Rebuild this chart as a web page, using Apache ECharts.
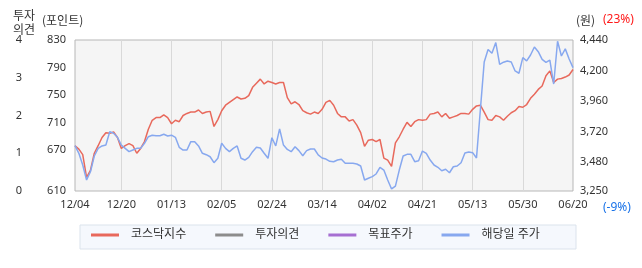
<!DOCTYPE html>
<html>
<head>
<meta charset="utf-8">
<script src="https://cdn.jsdelivr.net/npm/echarts@6/dist/echarts.min.js"></script>
<style>
html,body{margin:0;padding:0;background:#fff;}
#c{width:642px;height:268px;}
</style>
</head>
<body>
<div id="c"></div>
<script>
// Trading days 2024-12-04 .. 2025-06-20
var dates = [
'12/04','12/05','12/06','12/09','12/10','12/11','12/12','12/13','12/16','12/17','12/18','12/19','12/20','12/23','12/24','12/26','12/27','12/30',
'01/02','01/03','01/06','01/07','01/08','01/09','01/10','01/13','01/14','01/15','01/16','01/17','01/20','01/21','01/22','01/23','01/24','01/31',
'02/03','02/04','02/05','02/06','02/07','02/10','02/11','02/12','02/13','02/14','02/17','02/18','02/19','02/20','02/21','02/24','02/25','02/26','02/27','02/28',
'03/04','03/05','03/06','03/07','03/10','03/11','03/12','03/13','03/14','03/17','03/18','03/19','03/20','03/21','03/24','03/25','03/26','03/27','03/28','03/31',
'04/01','04/02','04/03','04/04','04/07','04/08','04/09','04/10','04/11','04/14','04/15','04/16','04/17','04/18','04/21','04/22','04/23','04/24','04/25','04/28','04/29','04/30',
'05/02','05/07','05/08','05/09','05/12','05/13','05/14','05/15','05/16','05/19','05/20','05/21','05/22','05/23','05/26','05/27','05/28','05/29','05/30',
'06/02','06/04','06/05','06/09','06/10','06/11','06/12','06/13','06/16','06/17','06/18','06/19','06/20'
];

// 코스닥지수 (포인트)
var kosdaq = [
676,671,663,630,640,665,676,688,695,694,696,688,672,676,679,676,665,672,
682,700,713,717,717,721,717,708,713,711,720,723,725,725,728,723,725,726,
704,714,727,735,739,743,747,744,745,749,761,767,773,766,770,768,766,768,768,746,
737,740,736,727,724,722,725,723,729,739,742,735,723,718,718,712,714,706,695,675,
684,685,682,685,658,655,646,680,689,700,710,704,711,714,713,714,722,723,725,718,723,716,
718,720,723,723,722,729,734,735,725,714,713,720,718,713,719,724,727,733,732,
736,745,751,758,763,778,785,768,773,774,776,779,787
];

// 해당일 주가 (원)
var price = [
3607,3547,3455,3337,3402,3526,3586,3605,3612,3717,3705,3673,3612,3586,3560,3573,3586,3586,
3626,3678,3689,3686,3686,3697,3683,3690,3673,3594,3573,3573,3639,3639,3605,3547,3536,3520,
3473,3508,3626,3586,3560,3586,3605,3508,3494,3515,3560,3594,3589,3547,3508,3670,3605,3740,3612,3578,
3560,3599,3568,3528,3568,3581,3581,3534,3510,3502,3484,3481,3494,3500,3468,3468,3468,3463,3447,3337,
3350,3363,3384,3437,3415,3337,3266,3289,3415,3526,3539,3539,3481,3489,3565,3547,3494,3455,3437,3410,3421,3394,
3441,3447,3473,3549,3557,3552,3510,3888,4267,4365,4335,4420,4248,4265,4275,4267,4196,4178,4301,
4275,4322,4385,4348,4288,4264,4282,4093,4430,4314,4370,4290,4222
];

// 투자의견 / 목표주가 : no values shown
var opinion = [];
var target = [];

var pointTicks = [610, 670, 710, 750, 790, 830];
var priceTicks = [3250, 3480, 3720, 3960, 4200, 4440];
var opinionTicks = [0, 1, 2, 3, 4];

var seriesNames = ['코스닥지수', '투자의견', '목표주가', '해당일 주가'];
var FONT = "'Noto Sans', 'Noto Sans CJK KR', sans-serif";

function isLabelIdx(i) { return i === 0 || (i >= 12 && (i - 12) % 13 === 0); }
function isGridIdx(i) { return i > 0 && i < dates.length - 1 && i >= 12 && (i - 12) % 13 === 0; }

var chart = echarts.init(document.getElementById('c'), null, {renderer: 'canvas'});
chart.setOption({
  animation: false,
  backgroundColor: '#ffffff',
  textStyle: {fontFamily: FONT},
  grid: {
    left: 75, right: 69, top: 40, bottom: 77,
    containLabel: false, outerBoundsMode: 'none',
    show: true, backgroundColor: '#f5f5f5', borderColor: '#b7b7b7', borderWidth: 1
  },
  legend: {
    left: 91, top: 229, padding: 0,
    icon: 'rect', itemWidth: 28, itemHeight: 3, itemGap: 29,
    textStyle: {fontFamily: FONT, fontSize: 12, color: '#333333', padding: [0, 0, 0, 7]},
    data: seriesNames,
    z: 10
  },
  xAxis: {
    type: 'category',
    data: dates,
    boundaryGap: false,
    axisLine: {show: false},
    axisTick: {show: false},
    axisLabel: {
      interval: function (i) { return isLabelIdx(i); },
      color: '#333333', fontSize: 11, fontFamily: FONT, margin: 8
    },
    splitLine: {
      show: true,
      interval: function (i) { return isGridIdx(i); },
      lineStyle: {color: '#d9d9d9', width: 1}
    }
  },
  yAxis: [
    {
      type: 'value', position: 'left', min: 610, max: 830,
      axisLine: {show: false}, axisTick: {show: false}, splitLine: {show: false},
      axisLabel: {customValues: pointTicks, color: '#333333', fontSize: 11, fontFamily: FONT, margin: 9}
    },
    {
      type: 'value', position: 'left', min: 0, max: 4, offset: 48,
      axisLine: {show: false}, axisTick: {show: false}, splitLine: {show: false},
      axisLabel: {customValues: opinionTicks, color: '#333333', fontSize: 11, fontFamily: FONT, margin: 5}
    },
    {
      type: 'value', position: 'right', min: 3250, max: 4440,
      axisLine: {show: false}, axisTick: {show: false}, splitLine: {show: false},
      axisLabel: {
        customValues: priceTicks, color: '#333333', fontSize: 11, fontFamily: FONT, margin: 7,
        formatter: function (v) { return v.toLocaleString('en-US'); }
      }
    }
  ],
  graphic: [
    {type: 'rect', shape: {x: 80, y: 225, width: 496, height: 24}, style: {fill: '#f5f8fd', stroke: '#dbe3ec', lineWidth: 1}, z: 0, silent: true},
    {type: 'text', x: 13, y: 8, style: {text: '투자\n의견', font: "12px 'Noto Sans CJK KR'", fill: '#333333', lineHeight: 14}},
    {type: 'text', x: 42, y: 14, style: {text: '(포인트)', font: "12px 'Noto Sans CJK KR'", fill: '#333333'}},
    {type: 'text', x: 576, y: 14, style: {text: '(원)', font: "12px 'Noto Sans CJK KR'", fill: '#333333'}},
    {type: 'text', x: 603, y: 14, style: {text: '(23%)', font: "12px 'Noto Sans'", fill: '#ff1a1a'}},
    {type: 'text', x: 603, y: 202, style: {text: '(-9%)', font: "12px 'Noto Sans'", fill: '#1a73e8'}}
  ],
  series: [
    {name: '코스닥지수', type: 'line', yAxisIndex: 0, data: kosdaq, showSymbol: false, symbol: 'none',
     color: '#e8695c', lineStyle: {color: '#e8695c', width: 1.5}},
    {name: '투자의견', type: 'line', yAxisIndex: 1, data: opinion, showSymbol: false, symbol: 'none',
     color: '#8c8c8c', lineStyle: {color: '#8c8c8c', width: 1.5}},
    {name: '목표주가', type: 'line', yAxisIndex: 2, data: target, showSymbol: false, symbol: 'none',
     color: '#a66fd2', lineStyle: {color: '#a66fd2', width: 1.5}},
    {name: '해당일 주가', type: 'line', yAxisIndex: 2, data: price, showSymbol: false, symbol: 'none',
     color: '#87a8ef', lineStyle: {color: '#87a8ef', width: 1.5}}
  ]
});
</script>
</body>
</html>
